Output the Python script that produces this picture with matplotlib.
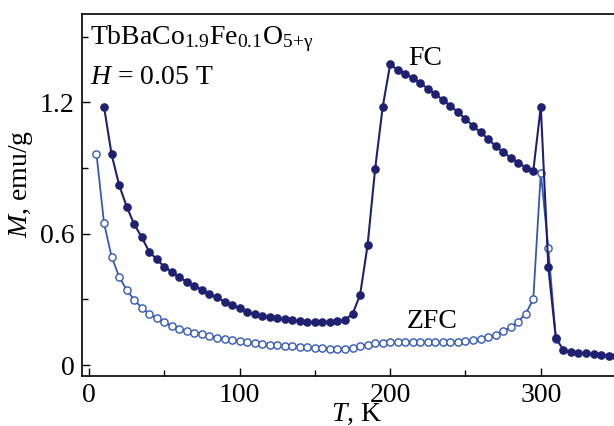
import numpy as np
import matplotlib
matplotlib.use('Agg')
import matplotlib.pyplot as plt
from matplotlib.ticker import FixedLocator, FixedFormatter

plt.rcParams['font.family'] = 'Liberation Serif'
plt.rcParams['mathtext.fontset'] = 'custom'
plt.rcParams['mathtext.rm'] = 'Liberation Serif'
plt.rcParams['mathtext.it'] = 'Liberation Serif:italic'

# FC curve (filled circles)
T_fc = [10, 15, 20, 25, 30, 35, 40, 45, 50, 55, 60, 65, 70, 75, 80, 85, 90, 95,
        100, 105, 110, 115, 120, 125, 130, 135, 140, 145, 150, 155, 160, 165,
        170, 175, 180, 185, 190, 195, 200, 205, 210, 215, 220, 225, 230, 235,
        240, 245, 250, 255, 260, 265, 270, 275, 280, 285, 290, 295, 300, 305,
        310, 315, 320, 325, 330, 335, 340, 345, 350]
M_fc = [1.18, 0.963, 0.823, 0.724, 0.644, 0.584, 0.518, 0.483, 0.449, 0.426,
        0.400, 0.381, 0.362, 0.343, 0.324, 0.310, 0.289, 0.274, 0.259, 0.244,
        0.232, 0.226, 0.219, 0.213, 0.209, 0.204, 0.200, 0.198, 0.197, 0.197,
        0.198, 0.200, 0.207, 0.233, 0.320, 0.548, 0.896, 1.178, 1.374, 1.347,
        1.329, 1.310, 1.287, 1.263, 1.237, 1.211, 1.184, 1.155, 1.124, 1.092,
        1.063, 1.033, 1.000, 0.972, 0.947, 0.925, 0.902, 0.887, 1.180, 0.447,
        0.122, 0.070, 0.061, 0.056, 0.053, 0.050, 0.046, 0.043, 0.041]

# ZFC curve (open circles)
T_zfc = [5, 10, 15, 20, 25, 30, 35, 40, 45, 50, 55, 60, 65, 70, 75, 80, 85, 90,
         95, 100, 105, 110, 115, 120, 125, 130, 135, 140, 145, 150, 155, 160,
         165, 170, 175, 180, 185, 190, 195, 200, 205, 210, 215, 220, 225, 230,
         235, 240, 245, 250, 255, 260, 265, 270, 275, 280, 285, 290, 295, 300,
         305, 310]
M_zfc = [0.963, 0.648, 0.495, 0.404, 0.343, 0.298, 0.262, 0.233, 0.213, 0.195,
         0.179, 0.166, 0.157, 0.148, 0.140, 0.133, 0.125, 0.118, 0.113, 0.109,
         0.104, 0.100, 0.096, 0.093, 0.090, 0.087, 0.085, 0.083, 0.081, 0.079,
         0.077, 0.075, 0.074, 0.075, 0.079, 0.086, 0.093, 0.099, 0.102, 0.104,
         0.104, 0.104, 0.104, 0.104, 0.104, 0.104, 0.104, 0.105, 0.107, 0.109,
         0.113, 0.119, 0.127, 0.139, 0.154, 0.173, 0.198, 0.235, 0.300, 0.879,
         0.533, 0.120]

fc_color = '#1e2170'
zfc_color = '#3358b8'

fig = plt.figure(figsize=(6.14, 4.26), dpi=100)
ax = fig.add_axes([0.133, 0.1174, 0.867, 0.850])

ax.plot(T_zfc, M_zfc, color=zfc_color, lw=1.3, marker='o', ms=5.2,
        mfc='white', mec=zfc_color, mew=1.0, zorder=2)
ax.plot(T_fc, M_fc, color=fc_color, lw=1.5, marker='o', ms=5.2,
        mfc=fc_color, mec=fc_color, zorder=3)

ax.set_xlim(-4.85, 348.6)
ax.set_ylim(-0.050, 1.604)

ax.xaxis.set_major_locator(FixedLocator([0, 100, 200, 300]))
ax.xaxis.set_minor_locator(FixedLocator([50, 150, 250]))
ax.yaxis.set_major_locator(FixedLocator([0, 0.6, 1.2]))
ax.yaxis.set_major_formatter(FixedFormatter(['0', '0.6', '1.2']))
ax.yaxis.set_minor_locator(FixedLocator([0.3, 0.9, 1.5]))
ax.tick_params(which='both', direction='in', labelsize=20, width=1.0)
ax.tick_params(which='major', length=6, pad=5)
ax.tick_params(which='minor', length=4)

ax.spines['right'].set_visible(False)
for s in ['left', 'bottom', 'top']:
    ax.spines[s].set_linewidth(1.2)

ax.set_xlabel('$T$, K', fontsize=20)
ax.xaxis.set_label_coords(0.517, -0.072, transform=ax.transAxes)
ax.xaxis.label.set_va('top')
ax.set_ylabel('$M$, emu/g', fontsize=20)
ax.yaxis.set_label_coords(-0.088, 0.53, transform=ax.transAxes)

ax.text(0.015, 0.975, r'TbBaCo$_{1.9}$Fe$_{0.1}$O$_{5{+}\mathrm{γ}}$',
        transform=ax.transAxes, fontsize=20, va='top', ha='left')
ax.text(0.015, 0.86, '$H$ = 0.05 T', transform=ax.transAxes, fontsize=20,
        va='top', ha='left')
ax.text(223, 1.40, 'FC', fontsize=20, ha='center', va='center')
ax.text(228, 0.197, 'ZFC', fontsize=20, ha='center', va='center')

plt.savefig('out.png', dpi=100)
